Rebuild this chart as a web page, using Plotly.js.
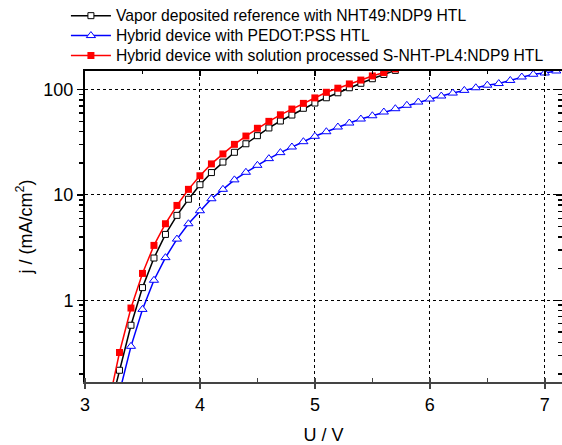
<!DOCTYPE html>
<html>
<head>
<meta charset="utf-8">
<script src="https://cdn.plot.ly/plotly-3.0.1.min.js"></script>
<style>html,body{margin:0;padding:0;background:#fff;}#plot{width:562px;height:445px;}</style>
</head>
<body>
<div id="plot"></div>
<script>
// Series names
const names = [
  "Vapor deposited reference with NHT49:NDP9 HTL",
  "Hybrid device with PEDOT:PSS HTL",
  "Hybrid device with solution processed S-NHT-PL4:NDP9 HTL"
];

// Vapor deposited reference (black open squares)
const vBlack = [3.2, 3.3, 3.4, 3.5, 3.6, 3.7, 3.8, 3.9, 4.0, 4.1, 4.2, 4.3, 4.4, 4.5, 4.6, 4.7, 4.8, 4.9, 5.0, 5.1, 5.2, 5.3, 5.4, 5.5, 5.6, 5.7, 5.8];
const jBlack = [0.079, 0.217, 0.58, 1.32, 2.52, 4.22, 6.4, 9.1, 12.5, 16.3, 20.5, 25.4, 30.6, 36.5, 43.2, 50.3, 57.3, 66.4, 74.5, 83.6, 93.2, 104, 114.6, 126.7, 139, 152, 164];

// Hybrid PEDOT:PSS (blue open triangles)
const vBlue = [3.3, 3.4, 3.5, 3.6, 3.7, 3.8, 3.9, 4.0, 4.1, 4.2, 4.3, 4.4, 4.5, 4.6, 4.7, 4.8, 4.9, 5.0, 5.1, 5.2, 5.3, 5.4, 5.5, 5.6, 5.7, 5.8, 5.9, 6.0, 6.1, 6.2, 6.3, 6.4, 6.5, 6.6, 6.7, 6.8, 6.9, 7.0, 7.1];
const jBlue = [0.134, 0.366, 0.82, 1.55, 2.54, 3.81, 5.33, 7.08, 9.2, 11.3, 13.9, 16.4, 19.1, 22.1, 25.2, 28.5, 32.0, 36.0, 39.8, 44.1, 48.1, 52.5, 56.4, 61.2, 65.8, 70.9, 76.1, 81.3, 86.8, 92.6, 98.2, 104, 110, 114, 122, 131.5, 139.6, 143.6, 150];

// Hybrid S-NHT-PL4:NDP9 (red filled squares)
const vRed = [3.2, 3.3, 3.4, 3.5, 3.6, 3.7, 3.8, 3.9, 4.0, 4.1, 4.2, 4.3, 4.4, 4.5, 4.6, 4.7, 4.8, 4.9, 5.0, 5.1, 5.2, 5.3, 5.4, 5.5, 5.6, 5.7];
const jRed = [0.098, 0.32, 0.845, 1.80, 3.32, 5.33, 7.95, 11.3, 15.2, 19.7, 24.5, 30.2, 36.2, 42.9, 49.9, 57.6, 65.3, 73.9, 83.3, 94.2, 103, 113, 123, 134.6, 145, 157];

const xTickVals = [3, 4, 5, 6, 7];
const yTickVals = [1, 10, 100];
const yTickText = ["1", "10", "100"];
const yMinorVals = [0.2, 0.3, 0.4, 0.5, 0.6, 0.7, 0.8, 0.9,
                    2, 3, 4, 5, 6, 7, 8, 9,
                    20, 30, 40, 50, 60, 70, 80, 90];

const FONT = "Liberation Sans, Arial, sans-serif";
// legend text drawn slightly larger than the legend's nominal font (keeps row spacing tight)
const legName = n => '<span style="font-size:15.7px">' + n + '</span>';

const traces = [
  {x: vBlack, y: jBlack, name: legName(names[0]), type: "scatter", mode: "lines+markers",
   line: {color: "#000000", width: 1.5},
   marker: {symbol: "square", size: 6, color: "#ffffff", line: {color: "#000000", width: 1}}},
  {x: vBlue, y: jBlue, name: legName(names[1]), type: "scatter", mode: "lines+markers",
   line: {color: "#0000ff", width: 1.5},
   marker: {symbol: "triangle-up", size: 8, color: "#ffffff", line: {color: "#0000ff", width: 1}}},
  {x: vRed, y: jRed, name: legName(names[2]), type: "scatter", mode: "lines+markers",
   line: {color: "#ff0000", width: 1.5},
   marker: {symbol: "square", size: 7, color: "#ff0000", line: {color: "#ff0000", width: 0}}},
  {x: [], y: [], xaxis: "x2", yaxis: "y2", showlegend: false, hoverinfo: "skip", type: "scatter"}
];

const xr = [3, 7.15];
const yr = [-0.775, 2.176];

const layout = {
  width: 562, height: 445,
  margin: {l: 85, r: 0, t: 71, b: 63},
  paper_bgcolor: "#ffffff", plot_bgcolor: "#ffffff",
  font: {family: FONT, color: "#000000", size: 18},
  showlegend: true,
  legend: {x: -0.04, y: 1.226, xanchor: "left", yanchor: "top",
           font: {family: FONT, size: 13, color: "#000"},
           bgcolor: "rgba(0,0,0,0)", tracegroupgap: 0, itemwidth: 40},
  xaxis: {
    type: "linear", range: xr, tickvals: xTickVals, ticktext: xTickVals.map(String),
    ticks: "outside", ticklen: 5, tickwidth: 1.5, tickcolor: "#444",
    showline: true, linecolor: "#444", linewidth: 2,
    showgrid: true, gridcolor: "#000", gridwidth: 1, griddash: "dot",
    zeroline: false, tickfont: {size: 18},
    minor: {dtick: 0.5, tick0: 3.5, ticks: "inside", ticklen: 4, tickcolor: "#444", showgrid: false},
    title: {text: "U / V", font: {size: 18}, standoff: 19}
  },
  yaxis: {
    type: "log", range: yr, tickvals: yTickVals, ticktext: yTickText,
    ticks: "outside", ticklen: 6, tickwidth: 1.5, tickcolor: "#000",
    showline: true, linecolor: "#000", linewidth: 2,
    showgrid: true, gridcolor: "#000", gridwidth: 1, griddash: "dot",
    zeroline: false, tickfont: {size: 18},
    minor: {tickvals: yMinorVals, ticks: "outside", ticklen: 4, tickcolor: "#000", showgrid: false},
    title: {text: "j / (mA/cm<sup>2</sup>)", font: {size: 18}, standoff: 6}
  },
  xaxis2: {
    overlaying: "x", side: "top", anchor: "y", range: xr, type: "linear",
    tickvals: xTickVals, ticks: "inside", ticklen: 5, tickcolor: "#000", tickwidth: 1.5,
    showticklabels: false, showline: true, linecolor: "#000", linewidth: 2,
    showgrid: false, zeroline: false,
    minor: {dtick: 0.5, tick0: 3.5, ticks: "inside", ticklen: 3, tickcolor: "#000", showgrid: false}
  },
  yaxis2: {
    overlaying: "y", side: "right", anchor: "x", range: yr, type: "log",
    tickvals: yTickVals, ticks: "inside", ticklen: 6, tickcolor: "#000", tickwidth: 1.5,
    showticklabels: false, showline: false,
    showgrid: false, zeroline: false,
    minor: {tickvals: yMinorVals, ticks: "inside", ticklen: 4, tickcolor: "#000", showgrid: false}
  }
};

Plotly.newPlot("plot", traces, layout, {displayModeBar: false, staticPlot: true});
</script>
</body>
</html>
